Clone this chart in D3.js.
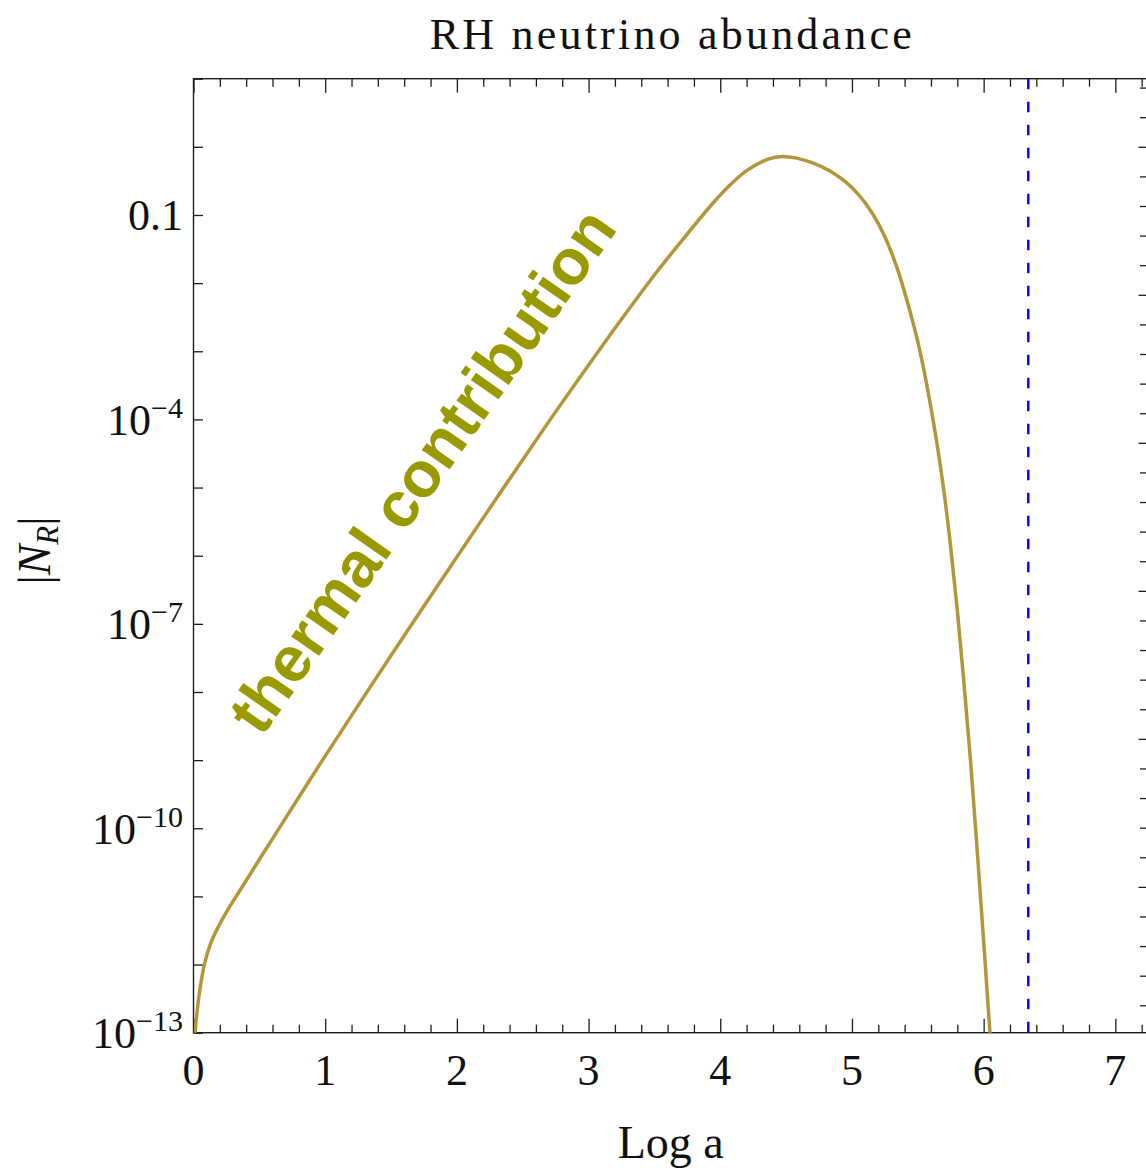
<!DOCTYPE html>
<html>
<head>
<meta charset="utf-8">
<script src="https://cdn.jsdelivr.net/npm/d3@7"></script>
<style>
  body { margin: 0; background: #fff; }
  svg { font-family: "Liberation Serif", serif; }
</style>
</head>
<body>
<div id="plot"></div>
<script>
// chart data

// Log a values of the curve
const logA = [0.004, 0.013, 0.03, 0.052, 0.085, 0.13, 0.19, 0.25, 0.35, 0.48, 0.64,
  0.97, 1.31, 1.66, 2.01, 2.37, 2.72, 3.0, 3.25, 3.5, 3.694, 3.947, 4.074,
  4.2, 4.327, 4.39, 4.453, 4.52, 4.58, 4.706, 4.83, 4.95, 5.05, 5.15, 5.25, 5.35,
  5.45, 5.5, 5.55, 5.6, 5.65, 5.7, 5.75, 5.8, 5.85, 5.9, 5.95, 6.0, 6.05, 6.07];

// log10 |N_R| at those points
const log10NR = [-13.6, -13.0, -12.64, -12.32, -11.98, -11.69, -11.44, -11.23, -10.92, -10.52, -10.03,
  -9.03, -8.02, -7.0, -5.99, -4.96, -3.97, -3.2, -2.53, -1.88, -1.41, -0.82, -0.56,
  -0.35, -0.21, -0.165, -0.144, -0.148, -0.165, -0.24, -0.35, -0.51, -0.70, -0.96, -1.32, -1.82,
  -2.48, -2.86, -3.31, -3.83, -4.41, -5.08, -5.88, -6.80, -7.86, -9.0, -10.3, -11.66, -13.06, -13.62];

const dashedAt = 6.339;

const xMajorTicks = [0, 1, 2, 3, 4, 5, 6, 7];
const yTickExps = [-13, -12, -11, -10, -9, -8, -7, -6, -5, -4, -3, -2, -1, 0, 1];
const yLabelExps = [-1, -4, -7, -10, -13];
const rightTicks = [1, 2, 3, 4, 5, 6, 7, 8, 9, 10, 11, 12, 13, 14, 15, 16, 17, 18, 19, 20,
  21, 22, 23, 24, 25, 26, 27, 28, 29, 30, 31, 32];
const rightMajor = [5, 10, 15, 20, 25, 30];

const title = "RH neutrino abundance";
const xTitle = "Log a";
const note = "thermal contribution";

const w = 1146, h = 1168;
const pLeft = 193.5, pRight = 1148, pTop = 78.7, pBottom = 1032.7;
const ink = "#1c1c1c";

const svg = d3.select("#plot").append("svg")
    .attr("width", w)
    .attr("height", h);

const x = d3.scaleLinear().domain([0, 7.248]).range([pLeft, pRight]);
const y = d3.scaleLog().domain([1e-13, 10]).range([pBottom, pTop]);
const yR = d3.scaleLinear().domain([0.074, 32.3]).range([pBottom, pTop]);

// minor x ticks every 0.2
const xMinorTicks = [];
xMajorTicks.forEach(t => [0.2, 0.4, 0.6, 0.8].forEach(f => {
  if (t + f < 7.248) xMinorTicks.push(+(t + f).toFixed(1));
}));

svg.append("defs").append("clipPath").attr("id", "clip")
  .append("rect")
    .attr("x", pLeft).attr("y", pTop)
    .attr("width", pRight - pLeft).attr("height", pBottom - pTop);

// ticks
function ticks(axis, tx, ty) {
  const g = svg.append("g")
      .attr("transform", `translate(${tx},${ty})`)
      .call(axis.tickFormat(""));
  g.select(".domain").remove();
  g.selectAll("line").attr("stroke", ink).attr("stroke-width", 1.3);
  g.selectAll("text").remove();
}

ticks(d3.axisBottom(x).tickValues(xMajorTicks).tickSize(-14), 0, pBottom);
ticks(d3.axisBottom(x).tickValues(xMinorTicks).tickSize(-8), 0, pBottom);
ticks(d3.axisTop(x).tickValues(xMajorTicks).tickSize(-14), 0, pTop);
ticks(d3.axisTop(x).tickValues(xMinorTicks).tickSize(-8), 0, pTop);
ticks(d3.axisLeft(y).tickValues(yTickExps.map(e => Math.pow(10, e))).tickSize(-9.5), pLeft, 0);
ticks(d3.axisRight(yR).tickValues(rightTicks.filter(t => !rightMajor.includes(t))).tickSize(-8), pRight, 0);
ticks(d3.axisRight(yR).tickValues(rightMajor).tickSize(-9.5), pRight, 0);

// frame
svg.append("rect")
    .attr("x", pLeft).attr("y", pTop)
    .attr("width", pRight - pLeft).attr("height", pBottom - pTop)
    .attr("fill", "none")
    .attr("stroke", ink)
    .attr("stroke-width", 1.4);

// dashed vertical line
svg.append("line")
    .attr("x1", x(dashedAt)).attr("x2", x(dashedAt))
    .attr("y1", pTop).attr("y2", pBottom)
    .attr("stroke", "#0000ff")
    .attr("stroke-width", 2.4)
    .attr("stroke-dasharray", "10.5,12.5");

// curve
const pts = logA.map((a, i) => ({a: a, n: Math.pow(10, log10NR[i])}));
const line = d3.line()
    .x(d => x(d.a))
    .y(d => y(d.n))
    .curve(d3.curveCatmullRom.alpha(0.5));

svg.append("path")
    .datum(pts)
    .attr("clip-path", "url(#clip)")
    .attr("d", line)
    .attr("fill", "none")
    .attr("stroke", "#b3963a")
    .attr("stroke-width", 3.5)
    .attr("stroke-linejoin", "round");

// tick labels
svg.append("g").selectAll("text")
  .data(xMajorTicks)
  .enter().append("text")
    .attr("x", d => x(d))
    .attr("y", pBottom + 52)
    .attr("text-anchor", "middle")
    .attr("font-size", 44)
    .attr("fill", "#111")
    .text(d => d);

const yl = svg.append("g").selectAll("text")
  .data(yLabelExps)
  .enter().append("text")
    .attr("x", 183)
    .attr("y", d => y(Math.pow(10, d)) + 15.5)
    .attr("text-anchor", "end")
    .attr("font-size", 44)
    .attr("fill", "#111");

yl.each(function(d) {
  const t = d3.select(this);
  if (d === -1) {
    t.text("0.1");
  } else {
    t.append("tspan").text("10");
    t.append("tspan")
        .attr("font-size", 30)
        .attr("dy", -17)
        .text("\u2212" + (-d));
  }
});

// titles
svg.append("text")
    .attr("x", (pLeft + pRight) / 2)
    .attr("y", 49)
    .attr("text-anchor", "middle")
    .attr("font-size", 44)
    .attr("textLength", 482)
    .attr("lengthAdjust", "spacing")
    .attr("fill", "#111")
    .text(title);

svg.append("text")
    .attr("x", (pLeft + pRight) / 2)
    .attr("y", 1158)
    .attr("text-anchor", "middle")
    .attr("font-size", 46)
    .attr("fill", "#111")
    .text(xTitle);

const ylab = svg.append("text")
    .attr("transform", "translate(50,550.5) rotate(-90)")
    .attr("text-anchor", "middle")
    .attr("font-size", 46)
    .attr("fill", "#111");
ylab.append("tspan").text("|");
ylab.append("tspan").attr("font-style", "italic").text("N");
ylab.append("tspan").attr("font-style", "italic").attr("font-size", 31).attr("dy", 8).text("R");
ylab.append("tspan").attr("dy", -8).text("|");

// annotation
svg.append("text")
    .attr("transform", "translate(421,470) rotate(-55)")
    .attr("text-anchor", "middle")
    .attr("dy", "0.36em")
    .style("font-family", "'Liberation Sans', Arial, sans-serif")
    .attr("font-weight", "bold")
    .attr("font-size", 64)
    .attr("fill", "#999900")
    .text(note);
</script>
</body>
</html>
